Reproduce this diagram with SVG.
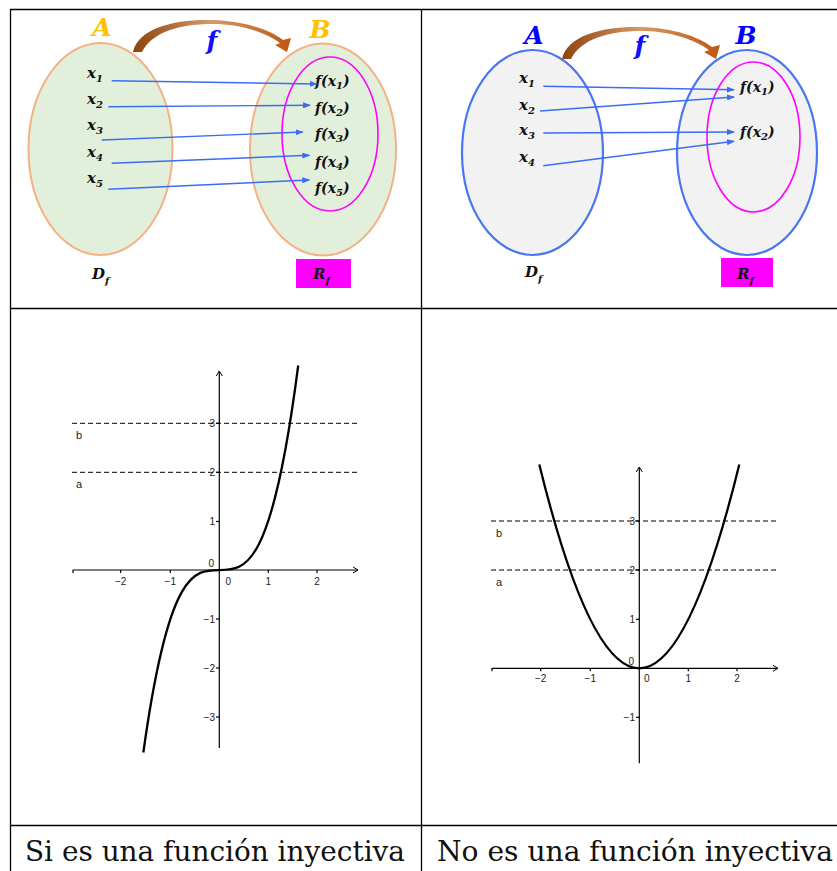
<svg xmlns="http://www.w3.org/2000/svg" width="837" height="871" viewBox="0 0 837 871">
<defs>
<style>
.grid{stroke:#000;stroke-width:1.3;fill:none}
.ellG{fill:#e2efda;stroke:#f4b183;stroke-width:2}
.ellB{fill:#f2f2f2;stroke:#4a76f0;stroke-width:2.2}
.mag{fill:none;stroke:#ff00ff;stroke-width:1.6}
.m{font-family:"DejaVu Serif","Liberation Serif",serif;font-weight:bold;font-style:italic;fill:#111}
.big{font-family:"DejaVu Serif","Liberation Serif",serif;font-weight:bold;font-style:italic;font-size:25px}
.conn{stroke:#3a6cf4;stroke-width:1.4;fill:none;marker-end:url(#ab)}
.ax{stroke:#000;stroke-width:1.2;fill:none}
.axa{stroke:#000;stroke-width:1.2;fill:none;marker-end:url(#ah)}
.dash{stroke:#000;stroke-width:1;stroke-dasharray:5 3;fill:none}
.crv{stroke:#000;stroke-width:2.3;fill:none}
.tk{font-family:"Liberation Sans",Arial,sans-serif;font-size:10px;fill:#222}
.lb{font-family:"Liberation Sans",Arial,sans-serif;font-size:11px;fill:#222}
.cap{font-family:"DejaVu Serif","Liberation Serif",serif;font-size:28px;fill:#111}
</style>
<marker id="ab" markerUnits="userSpaceOnUse" markerWidth="8" markerHeight="6" refX="7" refY="3" orient="auto">
<path d="M0,0 L8,3 L0,6 Z" fill="#3a6cf4"/>
</marker>
<marker id="ah" markerUnits="userSpaceOnUse" markerWidth="8" markerHeight="8" refX="6" refY="4" orient="auto">
<path d="M1,1 L6,4 L1,7" fill="none" stroke="#000" stroke-width="1"/>
</marker>
<linearGradient id="br" x1="0" y1="0" x2="1" y2="0">
<stop offset="0" stop-color="#8f430e"/>
<stop offset="0.5" stop-color="#d49a6a"/>
<stop offset="1" stop-color="#c0560f"/>
</linearGradient>
<path id="bra" d="M133,52 C138,28 175,19 212,20 C245,21 270,30 283,40 L291,38 L287,52 L275,45 L280,43 C265,32 240,24 212,24 C180,24 152,32 142,52 Z"/>
</defs>
<rect width="837" height="871" fill="#fff"/>

<g id="table" class="grid">
<line x1="10" y1="9.5" x2="837" y2="9.5"/>
<line x1="10.5" y1="9" x2="10.5" y2="871"/>
<line x1="421.5" y1="9" x2="421.5" y2="871"/>
<line x1="10" y1="308.5" x2="837" y2="308.5"/>
<line x1="10" y1="825.5" x2="837" y2="825.5"/>
</g>

<!-- Top left diagram -->
<g id="setA1">
<ellipse class="ellG" cx="100.5" cy="149" rx="72" ry="106"/>
<text class="big" x="102" y="36" text-anchor="middle" fill="#ffc000">A</text>
<text class="m" x="87" y="78" font-size="15">x<tspan font-size="10" dy="4">1</tspan></text>
<text class="m" x="87" y="104" font-size="15">x<tspan font-size="10" dy="4">2</tspan></text>
<text class="m" x="87" y="130" font-size="15">x<tspan font-size="10" dy="4">3</tspan></text>
<text class="m" x="87" y="157" font-size="15">x<tspan font-size="10" dy="4">4</tspan></text>
<text class="m" x="87" y="183" font-size="15">x<tspan font-size="10" dy="4">5</tspan></text>
<text class="m" x="92" y="279" font-size="15">D<tspan font-size="10" dy="5">f</tspan></text>
</g>
<g id="setB1">
<ellipse class="ellG" cx="323" cy="149.5" rx="73" ry="106"/>
<ellipse class="mag" cx="330" cy="134" rx="48" ry="77"/>
<text class="big" x="320" y="38" text-anchor="middle" fill="#ffc000">B</text>
<text class="m" x="315" y="86" font-size="14">f(x<tspan font-size="10" dy="3">1</tspan><tspan dy="-3">)</tspan></text>
<text class="m" x="315" y="113" font-size="14">f(x<tspan font-size="10" dy="3">2</tspan><tspan dy="-3">)</tspan></text>
<text class="m" x="315" y="139" font-size="14">f(x<tspan font-size="10" dy="3">3</tspan><tspan dy="-3">)</tspan></text>
<text class="m" x="315" y="167" font-size="14">f(x<tspan font-size="10" dy="3">4</tspan><tspan dy="-3">)</tspan></text>
<text class="m" x="315" y="193" font-size="14">f(x<tspan font-size="10" dy="3">5</tspan><tspan dy="-3">)</tspan></text>
<rect x="296" y="259" width="55" height="29" fill="#ff00ff"/>
<text class="m" x="313" y="279" font-size="15">R<tspan font-size="10" dy="5">f</tspan></text>
</g>
<g id="map1">
<use href="#bra" fill="url(#br)"/>
<text class="big" x="212" y="49" text-anchor="middle" fill="#1010ff">f</text>
</g>

<!-- Top right diagram -->
<g id="setA2">
<ellipse class="ellB" cx="532.5" cy="152.5" rx="70.5" ry="102.5"/>
<text class="big" x="534" y="44" text-anchor="middle" fill="#0000ff">A</text>
<text class="m" x="519" y="83" font-size="15">x<tspan font-size="10" dy="4">1</tspan></text>
<text class="m" x="519" y="110" font-size="15">x<tspan font-size="10" dy="4">2</tspan></text>
<text class="m" x="519" y="135" font-size="15">x<tspan font-size="10" dy="4">3</tspan></text>
<text class="m" x="519" y="162" font-size="15">x<tspan font-size="10" dy="4">4</tspan></text>
<text class="m" x="525" y="277" font-size="15">D<tspan font-size="10" dy="5">f</tspan></text>
</g>
<g id="setB2">
<ellipse class="ellB" cx="747" cy="152.5" rx="70" ry="102.5"/>
<ellipse class="mag" cx="753.5" cy="137" rx="46.5" ry="75"/>
<text class="big" x="746" y="44" text-anchor="middle" fill="#0000ff">B</text>
<text class="m" x="740" y="92" font-size="14">f(x<tspan font-size="10" dy="3">1</tspan><tspan dy="-3">)</tspan></text>
<text class="m" x="740" y="137" font-size="14">f(x<tspan font-size="10" dy="3">2</tspan><tspan dy="-3">)</tspan></text>
<rect x="721" y="258" width="52" height="29" fill="#ff00ff"/>
<text class="m" x="737" y="279" font-size="15">R<tspan font-size="10" dy="5">f</tspan></text>
</g>
<g id="map2">
<use href="#bra" fill="url(#br)" transform="translate(429,7)"/>
<text class="big" x="640" y="54" text-anchor="middle" fill="#1010ff">f</text>
</g>

<g id="connectors">
<line class="conn" x1="111.7" y1="80.7" x2="316.7" y2="84"/>
<line class="conn" x1="108.3" y1="106.7" x2="310" y2="105.3"/>
<line class="conn" x1="101.7" y1="140" x2="302.7" y2="132"/>
<line class="conn" x1="111.7" y1="163.3" x2="309.3" y2="155.3"/>
<line class="conn" x1="108.3" y1="189.3" x2="309.3" y2="180"/>
<line class="conn" x1="543.3" y1="86.3" x2="734" y2="89.7"/>
<line class="conn" x1="540" y1="111" x2="734" y2="97"/>
<line class="conn" x1="543.3" y1="133" x2="734" y2="132"/>
<line class="conn" x1="543.3" y1="165.7" x2="734" y2="141.3"/>
</g>

<!-- Graph 1: y = x^3 -->
<g id="graph1">
<line class="dash" x1="72" y1="423.3" x2="360" y2="423.3"/>
<line class="dash" x1="72" y1="472.3" x2="360" y2="472.3"/>
<line class="axa" x1="72.7" y1="570" x2="358" y2="570"/>
<line class="axa" x1="219.3" y1="748" x2="219.3" y2="371"/>
<g class="ax">
<line x1="73" y1="570" x2="73" y2="573"/>
<line x1="120.7" y1="570" x2="120.7" y2="573"/>
<line x1="170.3" y1="570" x2="170.3" y2="573"/>
<line x1="268.3" y1="570" x2="268.3" y2="573"/>
<line x1="317" y1="570" x2="317" y2="573"/>
<line x1="216" y1="423.3" x2="219.3" y2="423.3"/>
<line x1="216" y1="472.3" x2="219.3" y2="472.3"/>
<line x1="216" y1="521.5" x2="219.3" y2="521.5"/>
<line x1="216" y1="619" x2="219.3" y2="619"/>
<line x1="216" y1="668" x2="219.3" y2="668"/>
<line x1="216" y1="717" x2="219.3" y2="717"/>
</g>
<path class="crv" d="M143.35,752.5 C194.96,380.5 246.58,766.9 298.2,365.5"/>
<text class="tk" x="120.7" y="585" text-anchor="middle">−2</text>
<text class="tk" x="170.3" y="585" text-anchor="middle">−1</text>
<text class="tk" x="228.3" y="585" text-anchor="middle">0</text>
<text class="tk" x="268.3" y="585" text-anchor="middle">1</text>
<text class="tk" x="317" y="585" text-anchor="middle">2</text>
<text class="tk" x="215" y="427" text-anchor="end">3</text>
<text class="tk" x="215" y="476" text-anchor="end">2</text>
<text class="tk" x="215" y="525" text-anchor="end">1</text>
<text class="tk" x="214" y="567" text-anchor="end">0</text>
<text class="tk" x="215" y="623" text-anchor="end">−1</text>
<text class="tk" x="215" y="672" text-anchor="end">−2</text>
<text class="tk" x="215" y="721" text-anchor="end">−3</text>
<text class="lb" x="76" y="439">b</text>
<text class="lb" x="76" y="488">a</text>
</g>

<!-- Graph 2: y = x^2 -->
<g id="graph2">
<line class="dash" x1="491" y1="521" x2="778" y2="521"/>
<line class="dash" x1="491" y1="570" x2="778" y2="570"/>
<line class="axa" x1="491.7" y1="668.3" x2="778" y2="668.3"/>
<line class="axa" x1="639.3" y1="763.3" x2="639.3" y2="467"/>
<g class="ax">
<line x1="492" y1="668.3" x2="492" y2="671.3"/>
<line x1="540.7" y1="668.3" x2="540.7" y2="671.3"/>
<line x1="590.3" y1="668.3" x2="590.3" y2="671.3"/>
<line x1="688.3" y1="668.3" x2="688.3" y2="671.3"/>
<line x1="737" y1="668.3" x2="737" y2="671.3"/>
<line x1="636" y1="521" x2="639.3" y2="521"/>
<line x1="636" y1="570" x2="639.3" y2="570"/>
<line x1="636" y1="619.3" x2="639.3" y2="619.3"/>
<line x1="636" y1="717.3" x2="639.3" y2="717.3"/>
</g>
<path class="crv" d="M539.3,464.4 Q639.3,872.2 739.3,464.4"/>
<text class="tk" x="540.7" y="682" text-anchor="middle">−2</text>
<text class="tk" x="590.3" y="682" text-anchor="middle">−1</text>
<text class="tk" x="646.7" y="682" text-anchor="middle">0</text>
<text class="tk" x="688.3" y="682" text-anchor="middle">1</text>
<text class="tk" x="737" y="682" text-anchor="middle">2</text>
<text class="tk" x="635" y="525" text-anchor="end">3</text>
<text class="tk" x="635" y="574" text-anchor="end">2</text>
<text class="tk" x="635" y="623" text-anchor="end">1</text>
<text class="tk" x="634" y="665" text-anchor="end">0</text>
<text class="tk" x="635" y="721" text-anchor="end">−1</text>
<text class="lb" x="496" y="537">b</text>
<text class="lb" x="496" y="586">a</text>
</g>

<g id="captions">
<text class="cap" x="25" y="861" textLength="380" lengthAdjust="spacingAndGlyphs">Si es una función inyectiva</text>
<text class="cap" x="437" y="861" textLength="396" lengthAdjust="spacingAndGlyphs">No es una función inyectiva</text>
</g>
</svg>
